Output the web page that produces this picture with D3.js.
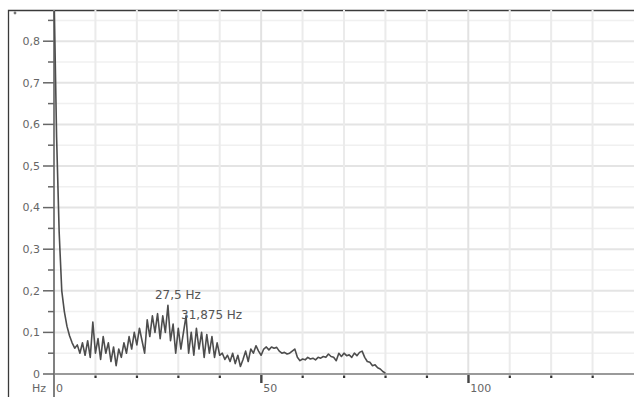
<!DOCTYPE html>
<html>
<head>
<meta charset="utf-8">
<script src="https://cdn.jsdelivr.net/npm/d3@7"></script>
<style>
  html, body { margin: 0; padding: 0; background: #fff; }
  svg { display: block; }
  text { font-family: "DejaVu Sans", Verdana, sans-serif; }
</style>
</head>
<body>
<svg id="chart" width="634" height="397"></svg>
<script>
// FFT amplitude spectrum, bins of 0.625 Hz from 0 Hz to 80 Hz
const binWidth = 0.625;
const amplitude = [
  0.92, 0.57, 0.34, 0.2, 0.15, 0.115, 0.092, 0.075, 0.062, 0.07,
  0.05, 0.075, 0.045, 0.08, 0.04, 0.125, 0.05, 0.085, 0.035, 0.09,
  0.05, 0.075, 0.03, 0.065, 0.02, 0.06, 0.04, 0.075, 0.05, 0.09,
  0.06, 0.1, 0.07, 0.11, 0.08, 0.05, 0.13, 0.09, 0.14, 0.1,
  0.145, 0.085, 0.14, 0.1, 0.165, 0.08, 0.12, 0.05, 0.11, 0.06,
  0.1, 0.14, 0.05, 0.1, 0.045, 0.11, 0.06, 0.1, 0.04, 0.095,
  0.05, 0.09, 0.04, 0.075, 0.045, 0.05, 0.035, 0.045, 0.03, 0.05,
  0.025, 0.045, 0.018, 0.035, 0.055, 0.03, 0.06, 0.05, 0.068, 0.055,
  0.045, 0.06, 0.065, 0.058, 0.065, 0.062, 0.064, 0.055, 0.05, 0.052,
  0.048, 0.05, 0.055, 0.06, 0.04, 0.032, 0.036, 0.034, 0.04, 0.036,
  0.038, 0.034, 0.04, 0.038, 0.042, 0.04, 0.048, 0.042, 0.04, 0.032,
  0.05, 0.042, 0.05, 0.044, 0.046, 0.04, 0.05, 0.044, 0.052, 0.055,
  0.04, 0.03, 0.028, 0.02, 0.022, 0.015, 0.012, 0.006, 0.002
];

// Marked peaks
const peakLabels = ["27,5 Hz", "31,875 Hz"];
const peakFreqs = [27.5, 31.875];

// Axis ticks
const yTicks = [0, 0.1, 0.2, 0.3, 0.4, 0.5, 0.6, 0.7, 0.8];
const yMinorTicks = [0.05, 0.15, 0.25, 0.35, 0.45, 0.55, 0.65, 0.75, 0.85];
const xLabelTicks = [0, 50, 100];
const xGridTicks = [10, 20, 30, 40, 50, 60, 70, 80, 90, 100, 110, 120, 130];
const xUnit = "Hz";

const svg = d3.select("#chart");
const W = 634, H = 397;
const plot = { left: 54, top: 10, right: 634, bottom: 374 };

const x = d3.scaleLinear().domain([0, 140]).range([plot.left, plot.right]);
const y = d3.scaleLinear().domain([0, 0.875]).range([plot.bottom, plot.top]);

const data = amplitude.map((v, i) => ({ f: i * binWidth, v }));
const fmt = d => d3.format(".1f")(d).replace(".", ",");

// frame (left and top edges)
svg.append("path")
  .attr("d", `M8.5,${H} L8.5,10.5 L${W},10.5`)
  .attr("fill", "none").attr("stroke", "#3a3a3a").attr("stroke-width", 1.3);
svg.append("circle").attr("cx", 15).attr("cy", 13).attr("r", 1.4).attr("fill", "#777");

// grid
const grid = svg.append("g");
grid.selectAll(".hminor").data(yMinorTicks.filter(t => t < 0.875)).join("line")
  .attr("x1", plot.left).attr("x2", plot.right)
  .attr("y1", d => y(d)).attr("y2", d => y(d))
  .attr("stroke", "#f0f0f0").attr("stroke-width", 1.5);
grid.selectAll(".hmajor").data(yTicks.filter(t => t > 0)).join("line")
  .attr("x1", plot.left).attr("x2", plot.right)
  .attr("y1", d => y(d)).attr("y2", d => y(d))
  .attr("stroke", "#e4e4e4").attr("stroke-width", 2);
grid.selectAll(".vline").data(xGridTicks).join("line")
  .attr("x1", d => x(d)).attr("x2", d => x(d))
  .attr("y1", plot.top).attr("y2", plot.bottom)
  .attr("stroke", d => d % 50 === 0 ? "#e2e2e2" : "#ebebeb").attr("stroke-width", 2);

// x axis
svg.append("line")
  .attr("x1", plot.left).attr("x2", W)
  .attr("y1", plot.bottom).attr("y2", plot.bottom)
  .attr("stroke", "#9a9a9a").attr("stroke-width", 2);
svg.selectAll(".xdot").data(xGridTicks.filter(d => d % 50 !== 0)).join("rect")
  .attr("x", d => x(d) - 1).attr("y", plot.bottom + 1.5)
  .attr("width", 2.2).attr("height", 2.5).attr("fill", "#333");
svg.selectAll(".xmaj").data(xLabelTicks.filter(d => d > 0)).join("rect")
  .attr("x", d => x(d) - 1).attr("y", plot.bottom + 1)
  .attr("width", 2.4).attr("height", 8).attr("fill", "#444");
svg.selectAll(".xlab").data(xLabelTicks).join("text")
  .attr("x", d => x(d) + 2).attr("y", 392)
  .attr("font-size", 11).attr("fill", "#666")
  .text(d => d);
svg.append("text").attr("x", 46).attr("y", 392).attr("text-anchor", "end")
  .attr("font-size", 11).attr("fill", "#666").text(xUnit);

// y axis
svg.append("line")
  .attr("x1", plot.left).attr("x2", plot.left)
  .attr("y1", plot.top).attr("y2", H)
  .attr("stroke", "#808080").attr("stroke-width", 2);
svg.selectAll(".ymaj").data(yTicks).join("line")
  .attr("x1", plot.left - 11).attr("x2", plot.left)
  .attr("y1", d => y(d)).attr("y2", d => y(d))
  .attr("stroke", "#666").attr("stroke-width", 1.5);
svg.selectAll(".ymin").data(yMinorTicks.filter(t => t < 0.875)).join("line")
  .attr("x1", plot.left - 6).attr("x2", plot.left)
  .attr("y1", d => y(d)).attr("y2", d => y(d))
  .attr("stroke", "#666").attr("stroke-width", 1.5);
svg.selectAll(".ylab").data(yTicks).join("text")
  .attr("x", 40).attr("y", d => y(d)).attr("dy", "0.35em")
  .attr("text-anchor", "end").attr("font-size", 11).attr("fill", "#666")
  .text(d => d === 0 ? "0" : fmt(d));

// spectrum line
svg.append("clipPath").attr("id", "clip").append("rect")
  .attr("x", plot.left - 2).attr("y", plot.top + 1)
  .attr("width", plot.right - plot.left + 2).attr("height", plot.bottom - plot.top + 2);
svg.append("path").datum(data)
  .attr("clip-path", "url(#clip)")
  .attr("fill", "none").attr("stroke", "#4d4d4d").attr("stroke-width", 1.6)
  .attr("stroke-linejoin", "round")
  .attr("d", d3.line().x(d => x(d.f)).y(d => y(d.v)));

// peak annotations
const labelPos = [{ dx: -13, y: 299 }, { dx: -5, y: 319 }];
svg.selectAll(".peak").data(peakFreqs).join("text")
  .attr("x", (d, i) => x(d) + labelPos[i].dx).attr("y", (d, i) => labelPos[i].y)
  .attr("font-size", 12).attr("fill", "#555")
  .text((d, i) => peakLabels[i]);
</script>
</body>
</html>
